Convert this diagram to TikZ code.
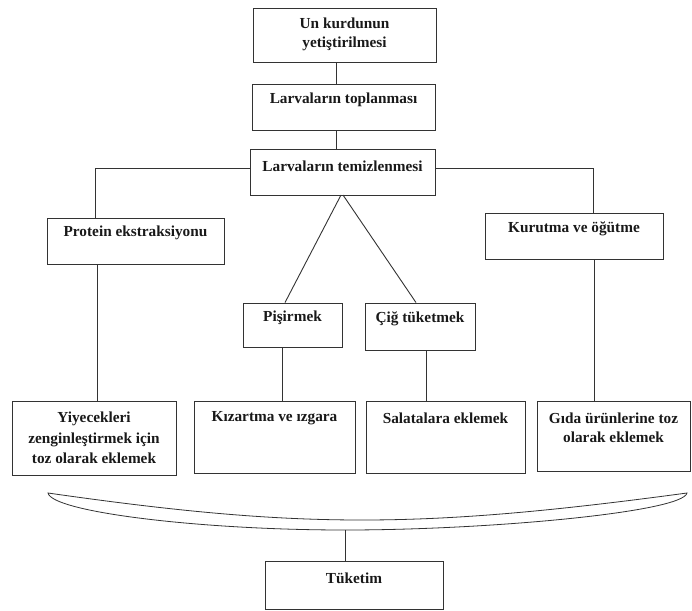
\documentclass[tikz,border=0pt]{standalone}
\usepackage{fontspec}
\setmainfont{Liberation Serif}
\begin{document}
\begin{tikzpicture}[x=1pt,y=-1pt,
  box/.style={draw=black!80,line width=0.9pt,inner sep=0pt,rectangle},
  txt/.style={font=\bfseries\fontsize{15.3}{19}\selectfont,align=center,inner sep=0pt,text=black!90},
  conn/.style={draw=black!80,line width=0.9pt}]
\useasboundingbox (0,0) rectangle (692,610);
% boxes
\node[box,minimum width=183pt,minimum height=54pt] (b1) at (344.5,35) {};
\node[box,minimum width=183pt,minimum height=46pt] (b2) at (343.5,107) {};
\node[box,minimum width=185pt,minimum height=46pt] (b3) at (342.5,172) {};
\node[box,minimum width=177pt,minimum height=46pt] (prot) at (135.5,241) {};
\node[box,minimum width=178pt,minimum height=46pt] (kuru) at (574,236) {};
\node[box,minimum width=99pt,minimum height=44pt] (pis) at (292.5,325) {};
\node[box,minimum width=110pt,minimum height=47pt] (cig) at (420,326.5) {};
\node[box,minimum width=164pt,minimum height=74pt] (yiy) at (94,438) {};
\node[box,minimum width=161pt,minimum height=72pt] (kiz) at (274.5,437) {};
\node[box,minimum width=159pt,minimum height=72pt] (sal) at (445.5,437) {};
\node[box,minimum width=153pt,minimum height=70pt] (gida) at (613.5,436) {};
\node[box,minimum width=178pt,minimum height=48pt] (tuk) at (354,585) {};
% texts
\node[txt] (t1) at (344.5,34) {Un kurdunun\\yetiştirilmesi};
\node[txt] (t2) at (343.5,100) {Larvaların toplanması};
\node[txt] (t3) at (342.5,166) {Larvaların temizlenmesi};
\node[txt] (tprot) at (135.5,233) {Protein ekstraksiyonu};
\node[txt] (tkuru) at (574,229) {Kurutma ve öğütme};
\node[txt] (tpis) at (292.5,318) {Pişirmek};
\node[txt] (tcig) at (420,319) {Çiğ tüketmek};
\node[txt,font=\bfseries\fontsize{15.3}{20.5}\selectfont] (tyiy) at (94,438) {Yiyecekleri\\zenginleştirmek için\\toz olarak eklemek};
\node[txt] (tkiz) at (274.5,418) {Kızartma ve ızgara};
\node[txt] (tsal) at (445.5,418) {Salatalara eklemek};
\node[txt] (tgida) at (613.5,427.5) {Gıda ürünlerine toz\\olarak eklemek};
\node[txt] (ttuk) at (354,578) {Tüketim};
% connectors
\draw[conn] (b1.south -| 336,0) -- (b2.north -| 336,0);
\draw[conn] (b2.south -| 336,0) -- (b3.north -| 336,0);
\coordinate (lc) at (95,168);
\coordinate (rc) at (593,168);
\draw[conn] (b3.west |- lc) -- (lc) -- (prot.north -| lc);
\draw[conn] (b3.east |- rc) -- (rc) -- (kuru.north -| rc);
\coordinate (d1) at (341,195);
\coordinate (d2) at (343,195);
\draw[conn] (d1) -- (pis.north -| 285,0);
\draw[conn] (d2) -- (cig.north -| 416,0);
\draw[conn] (prot.south -| 97,0) -- (yiy.north -| 97,0);
\draw[conn] (pis.south -| 282,0) -- (kiz.north -| 282,0);
\draw[conn] (cig.south -| 426,0) -- (sal.north -| 426,0);
\draw[conn] (kuru.south -| 594,0) -- (gida.north -| 594,0);
% lens
\coordinate (lensL) at (48,493);
\coordinate (lensR) at (687,493);
\coordinate (lensB) at (345,530);
\draw[conn,line width=0.8pt] (lensL) .. controls (300,529) and (420,529) .. (lensR)
  .. controls (683,512) and (490,530) .. (lensB)
  .. controls (200,530) and (52,512) .. (lensL) -- cycle;
\draw[conn] (lensB) -- (tuk.north -| lensB);
\end{tikzpicture}
\end{document}
